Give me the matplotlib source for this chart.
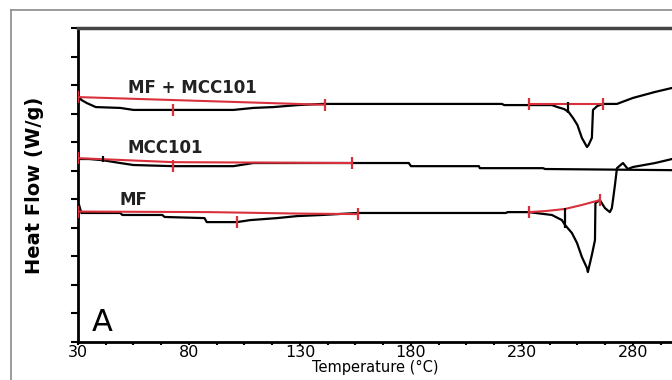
import numpy as np
import matplotlib
matplotlib.use("Agg")
import matplotlib.pyplot as plt
from matplotlib.ticker import FixedLocator, NullFormatter
from matplotlib.lines import Line2D

# DSC traces, temperature in degC, heat flow in arbitrary units (one y tick = 1)
mfmcc_T = [30, 31.5, 34, 38, 49, 55, 100, 109, 118, 129, 140, 221, 222, 243.5, 246, 249,
           251, 253, 255, 257, 259.3, 260, 261.5, 262, 264, 266.5, 272.8, 280, 290, 297.6]
mfmcc_hf = [8.65, 8.48, 8.37, 8.23, 8.20, 8.13, 8.13, 8.20, 8.23, 8.30, 8.34, 8.34, 8.30, 8.30, 8.23, 8.16,
            8.06, 7.85, 7.60, 7.15, 6.83, 6.90, 7.15, 8.13, 8.27, 8.34, 8.34, 8.55, 8.76, 8.90]

mcc_T = [30, 35, 41, 49, 55, 73, 100, 109, 179, 180, 210.6, 211, 239.5, 240.4, 297.6]
mcc_hf = [6.41, 6.41, 6.37, 6.27, 6.20, 6.16, 6.16, 6.27, 6.27, 6.16, 6.16, 6.09, 6.09, 6.06, 6.02]

mf_T = [30, 30.5, 31.5, 49, 50, 68, 69, 87, 88, 101.6, 107.5, 119.6, 128.6, 140, 156, 222.8, 223.5,
        233, 243.5, 248, 249.4, 252.5, 254.8, 257, 259.3, 259.7, 261.5, 262.9, 263.1, 265.1, 267.4,
        269.6, 270.5, 271, 271.9, 272.8, 275.5, 277.7, 280, 290, 297.6]
mf_hf = [4.73, 4.80, 4.52, 4.52, 4.45, 4.45, 4.38, 4.34, 4.20, 4.20, 4.27, 4.34, 4.41, 4.45, 4.52, 4.52, 4.55,
         4.55, 4.45, 4.27, 4.10, 3.82, 3.47, 2.98, 2.59, 2.45, 3.05, 3.57, 4.87, 4.97, 4.69,
         4.55, 4.69, 4.97, 5.50, 6.09, 6.27, 6.06, 6.13, 6.27, 6.41]

# integration baselines (red) and their limit marks
mfmcc_base1_T, mfmcc_base1_hf = [30, 141.3], [8.58, 8.31]
mfmcc_base2_T, mfmcc_base2_hf = [233.1, 266.5], [8.34, 8.34]
mcc_base_T, mcc_base_hf = [30, 73, 153.4], [6.44, 6.30, 6.27]
mf_base1_T, mf_base1_hf = [30, 89.5, 128.6, 156], [4.57, 4.55, 4.50, 4.48]
mf_base2_T, mf_base2_hf = [233.1, 241, 249.4, 257, 265.1], [4.55, 4.59, 4.66, 4.80, 4.97]

red_mark_T = [72.8, 73, 101.6]
red_mark_hf = [8.13, 6.16, 4.20]
black_mark_T = [250.7, 249.4, 41.3]
black_mark_lo = [8.02, 3.99, 6.30]
black_mark_hi = [8.41, 4.69, 6.52]

labels = ["MF + MCC101", "MCC101", "MF"]
label_T = [52.5, 52.5, 48.9]
label_hf = [8.90, 6.80, 4.97]

xticks = [30, 80, 130, 180, 230, 280]

red = "#d9303c"

fig = plt.figure(figsize=(6.72, 3.80), dpi=100)
ax = fig.add_axes([78 / 672, 1 - 342 / 380, 1 - 78 / 672, 314 / 380])

for T, hf in [(mfmcc_T, mfmcc_hf), (mcc_T, mcc_hf), (mf_T, mf_hf)]:
    ax.plot(T, hf, color="black", lw=1.6, zorder=3)

for T, hf in [(mfmcc_base1_T, mfmcc_base1_hf), (mfmcc_base2_T, mfmcc_base2_hf),
              (mcc_base_T, mcc_base_hf), (mf_base1_T, mf_base1_hf), (mf_base2_T, mf_base2_hf)]:
    ax.plot(T, hf, color=red, lw=1.5, zorder=4)
    ax.plot([T[0], T[-1]], [hf[0], hf[-1]], ls="none", marker="|", ms=8, mew=1.6,
            color=red, zorder=5)

ax.plot(red_mark_T, red_mark_hf, ls="none", marker="|", ms=8, mew=1.6, color=red, zorder=5)
ax.vlines(black_mark_T, black_mark_lo, black_mark_hi, color="black", lw=1.6, zorder=5)

for txt, t, h in zip(labels, label_T, label_hf):
    ax.text(t, h, txt, fontsize=12, fontweight="bold", color="#222222", va="center", ha="left")
ax.text(36.3, 0.70, "A", fontsize=22, va="center", ha="left")

ax.set_xlim(30, 297.6)
ax.set_ylim(0, 11)
ax.set_xticks(xticks)
ax.set_xticklabels([str(v) for v in xticks], fontsize=11.5)
ax.xaxis.set_minor_locator(FixedLocator(np.arange(30, 297, 12.5)))
ax.set_yticks(np.arange(0, 12, 1))
ax.yaxis.set_major_formatter(NullFormatter())
ax.tick_params(axis="x", which="major", direction="out", length=2.5, width=1.5, pad=0)
ax.tick_params(axis="x", which="minor", direction="out", length=2, width=1.5)
ax.tick_params(axis="y", which="major", direction="out", length=5, width=1.5)

ax.spines["right"].set_visible(False)
ax.spines["left"].set_linewidth(2)
ax.spines["bottom"].set_linewidth(2)
ax.spines["top"].set_linewidth(2.5)
ax.spines["top"].set_color("#444444")

ax.set_xlabel("Temperature (°C)", fontsize=10.5, labelpad=0)
ax.set_ylabel("Heat Flow (W/g)", fontsize=14, fontweight="bold",
              family=["Liberation Sans Narrow", "DejaVu Sans"], labelpad=16)

# grey outer frame of the panel
fig.add_artist(Line2D([11 / 672, 11 / 672], [0, 1 - 10 / 380], color="#8a8a8a", lw=1.2))
fig.add_artist(Line2D([11 / 672, 1], [1 - 10 / 380, 1 - 10 / 380], color="#8a8a8a", lw=1.2))

fig.savefig("out.png", dpi=100)
